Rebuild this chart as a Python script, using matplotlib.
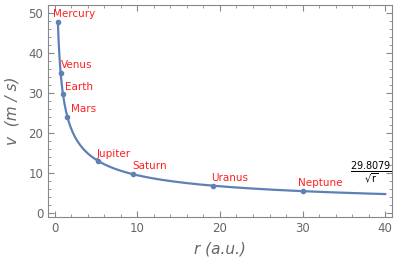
import matplotlib
matplotlib.use("Agg")
import matplotlib.pyplot as plt
import numpy as np

planets = ["Mercury", "Venus", "Earth", "Mars", "Jupiter", "Saturn", "Uranus", "Neptune"]
r_au = [0.387, 0.723, 1.0, 1.524, 5.203, 9.537, 19.19, 30.07]
v_kms = [47.87, 35.02, 29.78, 24.08, 13.07, 9.69, 6.81, 5.43]
k = 29.8079

# label offsets (pixels) from each point
label_dx = [-5, 0, 2, 4, -1, -1, -2, -5]
label_dy = [8, 8, 7, 8, 7, 8, 8, 8]

blue = "#5e81b5"
gray = "#888888"

fig = plt.figure(figsize=(3.97, 2.57), dpi=100)
ax = fig.add_axes([0.121, 0.156, 0.866, 0.826])

rr = np.linspace(min(r_au), 40, 400)
ax.plot(rr, k / np.sqrt(rr), color=blue, lw=1.6)
ax.plot(r_au, v_kms, "o", color=blue, ms=3)

for name, x, y, dx, dy in zip(planets, r_au, v_kms, label_dx, label_dy):
    ax.annotate(name, (x, y), xytext=(dx, dy), textcoords="offset pixels",
                ha="left", va="center", color="#ff2020", fontsize=7.5)

ax.text(0.94, 0.205, r"$\frac{29.8079}{\sqrt{\mathrm{r}}}$", transform=ax.transAxes,
        ha="center", va="center", fontsize=10, color="black")

ax.set_xlim(-0.8, 40.8)
ax.set_ylim(-1, 52.1)
ax.set_xticks([0, 10, 20, 30, 40])
ax.set_yticks([0, 10, 20, 30, 40, 50])
ax.set_xticks(np.arange(0, 41, 2), minor=True)
ax.set_yticks(np.arange(0, 53, 2), minor=True)
ax.tick_params(which="both", direction="in", top=True, right=True,
               colors=gray, labelcolor="#666666", labelsize=8.5)
ax.tick_params(which="major", length=4)
ax.tick_params(which="minor", length=2)
for s in ax.spines.values():
    s.set_color(gray)

ax.set_xlabel("r (a.u.)", fontsize=11, color="#666666", style="italic", labelpad=5)
ax.set_ylabel("v  (m / s)", fontsize=11, color="#666666", style="italic", labelpad=6)

fig.savefig("out.png", dpi=100)
